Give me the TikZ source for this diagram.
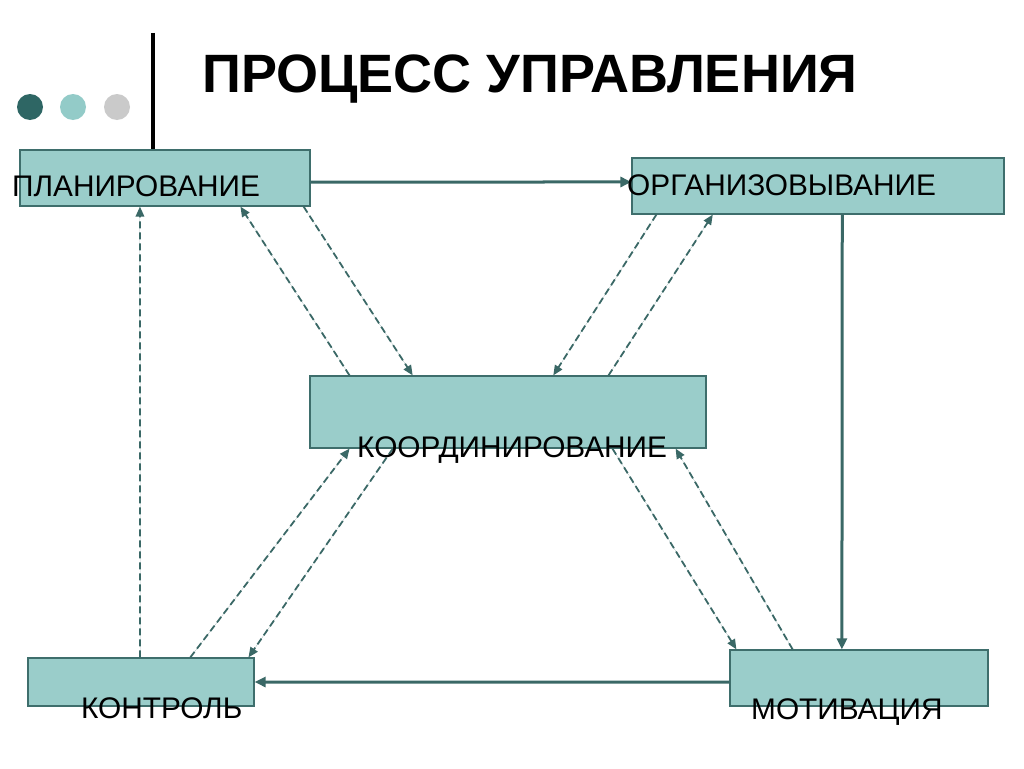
\documentclass[tikz,border=0pt]{standalone}
\usepackage{fontspec}
\setmainfont{Liberation Sans}
\usepackage{xcolor}
\usetikzlibrary{arrows.meta,positioning,calc}
\definecolor{boxfill}{HTML}{9ACDCA}
\definecolor{boxline}{HTML}{3E6E6C}
\definecolor{arrcol}{HTML}{3A6866}
\definecolor{dotdark}{HTML}{2E6664}
\definecolor{dotmid}{HTML}{93CBC8}
\definecolor{dotgrey}{HTML}{CACACA}

\begin{document}
\begin{tikzpicture}[x=1pt,y=-1pt,
  box/.style={draw=boxline,fill=boxfill,line width=1.2pt,inner sep=0pt},
  lbl/.style={inner sep=0pt,anchor=base west,font=\fontsize{29.8}{31}\selectfont},
  solidarr/.style={-{Triangle[length=11pt,width=10pt]},draw=arrcol,fill=arrcol,line width=3pt},
  dasharr/.style={-{Triangle[length=10pt,width=8.5pt]},draw=arrcol,fill=arrcol,line width=1.8pt,dash pattern=on 7pt off 4pt}]
\useasboundingbox (0,0) rectangle (1024,768);
% header
\fill[dotdark] (30,107) circle (13);
\fill[dotmid] (73,107) circle (13);
\fill[dotgrey] (117,107) circle (13);
\draw[line width=4pt] (153,33) -- (153,150);
\node[inner sep=0pt,anchor=base west,font=\bfseries\fontsize{54}{58}\selectfont] (title) at (202,92) {ПРОЦЕСС УПРАВЛЕНИЯ};
% boxes
\node[box,minimum width=290,minimum height=56] (plan) at (165,178) {};
\node[box,minimum width=372,minimum height=56] (org) at (818,186) {};
\node[box,minimum width=396,minimum height=72] (coord) at (508,412) {};
\node[box,minimum width=226,minimum height=48] (ctrl) at (141,682) {};
\node[box,minimum width=258,minimum height=56] (motiv) at (859,678) {};
% main cycle
\draw[solidarr] ($(plan.north east)!0.57!(plan.south east)$) -- ($(org.north west)!0.43!(org.south west)$);
\draw[solidarr] ($(org.south west)!0.565!(org.south east)$) -- ($(motiv.north west)!0.434!(motiv.north east)$);
\draw[solidarr] ($(motiv.north west)!0.571!(motiv.south west)$) -- (ctrl.east);
\draw[dasharr] ($(ctrl.north west)!0.496!(ctrl.north east)$) -- ($(plan.south west)!0.414!(plan.south east)$);
% links with coordination
\draw[dasharr] ($(coord.north west)!0.101!(coord.north east)$) -- ($(plan.south west)!0.759!(plan.south east)$);
\draw[dasharr] ($(plan.south west)!0.976!(plan.south east)$) -- ($(coord.north west)!0.26!(coord.north east)$);
\draw[dasharr] ($(org.south west)!0.067!(org.south east)$) -- ($(coord.north west)!0.614!(coord.north east)$);
\draw[dasharr] ($(coord.north west)!0.753!(coord.north east)$) -- ($(org.south west)!0.218!(org.south east)$);
\draw[dasharr] ($(ctrl.north west)!0.717!(ctrl.north east)$) -- ($(coord.south west)!0.101!(coord.south east)$);
\draw[dasharr] ($(coord.south west)!0.21!(coord.south east)$) -- ($(ctrl.north west)!0.973!(ctrl.north east)$);
\draw[dasharr] ($(coord.south west)!0.763!(coord.south east)$) -- ($(motiv.north west)!0.027!(motiv.north east)$);
\draw[dasharr] ($(motiv.north west)!0.244!(motiv.north east)$) -- ($(coord.south west)!0.922!(coord.south east)$);
% labels
\node[lbl] (plan-t) at (12,196) {ПЛАНИРОВАНИЕ};
\node[lbl] (org-t) at (627,195) {ОРГАНИЗОВЫВАНИЕ};
\node[lbl] (coord-t) at (357,457) {КООРДИНИРОВАНИЕ};
\node[lbl] (ctrl-t) at (81,718) {КОНТРОЛЬ};
\node[lbl] (motiv-t) at (751,719) {МОТИВАЦИЯ};
\end{tikzpicture}
\end{document}
